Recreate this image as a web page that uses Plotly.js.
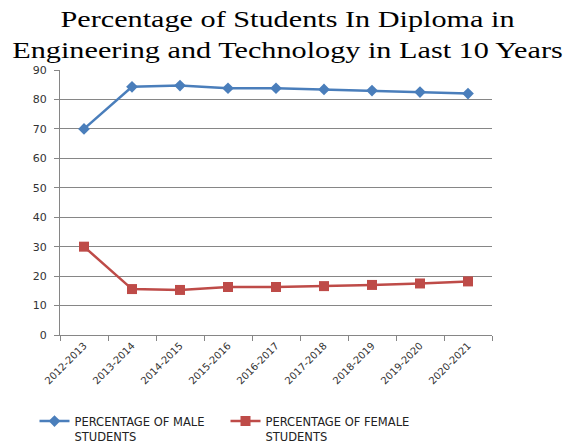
<!DOCTYPE html>
<html>
<head>
<meta charset="utf-8">
<script src="https://cdn.plot.ly/plotly-3.0.1.min.js"></script>
<style>
  html, body { margin: 0; padding: 0; background: #fff; }
  #chart { width: 575px; height: 444px; }
  /* widen the serif title horizontally */
  #chart .gtitle { transform-origin: 287.5px 0px; transform: scaleX(1.26); }
</style>
</head>
<body>
<div id="chart"></div>
<script>
// Academic years
const years = ['2012-2013', '2013-2014', '2014-2015', '2015-2016', '2016-2017',
               '2017-2018', '2018-2019', '2019-2020', '2020-2021'];
// Share of male students (%)
const maleShare = [70.0, 84.3, 84.7, 83.8, 83.8, 83.4, 83.0, 82.5, 82.0];
// Share of female students (%)
const femaleShare = [30.0, 15.6, 15.3, 16.3, 16.3, 16.6, 17.0, 17.5, 18.2];
const yTicks = [0, 10, 20, 30, 40, 50, 60, 70, 80, 90];

const traces = [
  {
    x: years, y: maleShare, type: 'scatter', mode: 'lines+markers',
    name: 'PERCENTAGE OF MALE<br>STUDENTS',
    line: { color: '#4A7EBB', width: 2.5 },
    marker: { symbol: 'diamond', size: 9, color: '#4A7EBB' }
  },
  {
    x: years, y: femaleShare, type: 'scatter', mode: 'lines+markers',
    name: 'PERCENTAGE OF FEMALE<br>STUDENTS',
    line: { color: '#BE4B48', width: 2.5 },
    marker: { symbol: 'square', size: 10, color: '#BE4B48' }
  }
];

const layout = {
  width: 575, height: 444,
  margin: { l: 60, r: 83, t: 70, b: 109 },
  paper_bgcolor: '#fff', plot_bgcolor: '#fff',
  font: { family: 'DejaVu Sans, Verdana, sans-serif', size: 10, color: '#333' },
  title: {
    text: 'Percentage of Students In Diploma in<br>Engineering and Technology in Last 10 Years',
    font: { family: 'Liberation Serif, Times New Roman, serif', size: 24, color: '#000' },
    x: 0.5, xanchor: 'center',
    yref: 'container', y: 0.940, yanchor: 'top'
  },
  xaxis: {
    type: 'category',
    tickangle: -45,
    tickson: 'boundaries',
    ticks: 'outside', ticklen: 5, tickcolor: '#868686',
    showline: true, linecolor: '#868686', linewidth: 1,
    showgrid: false, zeroline: false,
    automargin: false,
    tickfont: { size: 10, color: '#333' },
    range: [-0.5, 8.5], fixedrange: true
  },
  yaxis: {
    range: [0, 90],
    tickvals: yTicks,
    ticks: 'outside', ticklen: 5, tickcolor: '#868686',
    ticklabelstandoff: 5,
    showline: true, linecolor: '#868686', linewidth: 1,
    showgrid: true, gridcolor: '#868686', gridwidth: 1,
    zeroline: false,
    automargin: false,
    tickfont: { size: 11, color: '#333' },
    fixedrange: true
  },
  legend: {
    orientation: 'h',
    xref: 'container', x: 0.06, xanchor: 'left',
    yref: 'container', y: 0.083, yanchor: 'top',
    valign: 'top',
    font: { size: 11.5, color: '#222' },
    itemwidth: 30,
    entrywidth: 146, entrywidthmode: 'pixels',
    tracegroupgap: 0
  },
  showlegend: true
};

Plotly.newPlot('chart', traces, layout, { displayModeBar: false, staticPlot: true });
</script>
</body>
</html>
